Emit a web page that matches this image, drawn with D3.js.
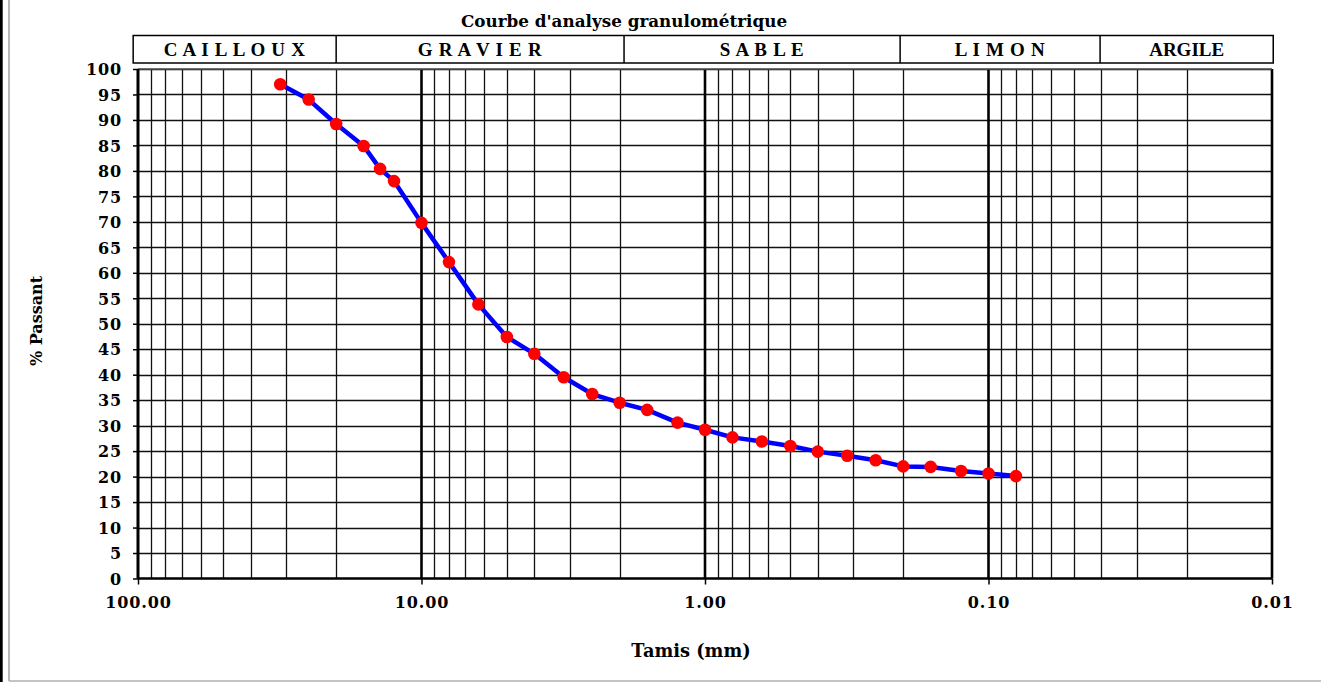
<!DOCTYPE html>
<html>
<head>
<meta charset="utf-8">
<script src="https://cdn.jsdelivr.net/npm/d3@7/dist/d3.min.js"></script>
<style>
  html, body { margin: 0; padding: 0; background: #fff; }
  svg { display: block; }
</style>
</head>
<body>
<svg id="chart" width="1321" height="682"></svg>
<script>
// ---- Data ----
const chartTitle = "Courbe d'analyse granulométrique";
const sieveSizes = [31.5, 25, 20, 16, 14, 12.5, 10, 8, 6.3, 5, 4, 3.15, 2.5, 2, 1.6, 1.25, 1, 0.8, 0.63, 0.5, 0.4, 0.315, 0.25, 0.2, 0.16, 0.125, 0.1, 0.08];
const percentPassing = [97.0, 94.0, 89.2, 84.9, 80.4, 78.0, 69.8, 62.1, 53.8, 47.4, 44.1, 39.5, 36.2, 34.5, 33.1, 30.6, 29.2, 27.7, 26.9, 26.0, 24.9, 24.1, 23.2, 22.0, 21.9, 21.1, 20.6, 20.1];
const classNames = ["C A I L L O U X", "G R A V I E R", "S A B L E", "L I M O N", "ARGILE"];
const classBounds = [104, 20, 1.93, 0.205, 0.0404, 0.0099];
const xTickValues = [100, 10, 1, 0.1, 0.01];
const yTickValues = d3.range(0, 101, 5);
const xTitle = "Tamis (mm)";
const yTitle = "% Passant";

// ---- Layout ----
const svg = d3.select("#chart");
const W = 1321, H = 682;
const pLeft = 138, pRight = 1272, pTop = 69, pBottom = 578.5;

const x = d3.scaleLog().domain([100, 0.01]).range([pLeft, pRight]);
const y = d3.scaleLinear().domain([0, 100]).range([pBottom, pTop]);

const tickFont = "'DejaVu Serif', Georgia, serif";
const headFont = "'Liberation Serif', 'Times New Roman', serif";

// outer frame
svg.append("rect").attr("x", 0).attr("y", 0).attr("width", 2.7).attr("height", H).attr("fill", "#000");
svg.append("line").attr("x1", 9).attr("x2", 9).attr("y1", 0).attr("y2", 681)
  .attr("stroke", "#a0a0a0").attr("stroke-width", 1.5);
svg.append("line").attr("x1", 9).attr("x2", W).attr("y1", 681).attr("y2", 681)
  .attr("stroke", "#b0b0b0").attr("stroke-width", 1.5);

// title
svg.append("text").attr("x", 624).attr("y", 26.5).attr("text-anchor", "middle")
  .attr("font-family", tickFont).attr("font-weight", "bold").attr("font-size", 16.8)
  .attr("fill", "#000").text(chartTitle);

// header band
const head = svg.append("g");
head.append("rect").attr("x", x(classBounds[0])).attr("y", 35.5)
  .attr("width", x(classBounds[classBounds.length - 1]) - x(classBounds[0])).attr("height", 27.5)
  .attr("fill", "none").attr("stroke", "#000").attr("stroke-width", 1.5);
classNames.forEach((name, i) => {
  const x0 = x(classBounds[i]), x1 = x(classBounds[i + 1]);
  if (i > 0) {
    head.append("line").attr("x1", x0).attr("x2", x0).attr("y1", 35.5).attr("y2", 63)
      .attr("stroke", "#000").attr("stroke-width", 1.5);
  }
  head.append("text").attr("x", (x0 + x1) / 2).attr("y", 56)
    .attr("text-anchor", "middle").attr("font-family", headFont)
    .attr("font-weight", "bold").attr("font-size", 19).attr("fill", "#000")
    .attr("letter-spacing", i < 4 ? 0.7 : 0)
    .text(name);
});

// grid
const grid = svg.append("g");
const minorVals = [];
for (let e = -2; e < 2; e++) {
  for (let k = 2; k <= 9; k++) minorVals.push(k * Math.pow(10, e));
}
grid.selectAll("line.hg").data(yTickValues.filter(v => v > 0)).join("line")
  .attr("x1", pLeft).attr("x2", pRight)
  .attr("y1", d => Math.round(y(d)) + 0.5).attr("y2", d => Math.round(y(d)) + 0.5)
  .attr("stroke", "#111").attr("stroke-width", 1.3);
grid.selectAll("line.vg").data(minorVals).join("line")
  .attr("x1", d => Math.round(x(d)) + 0.5).attr("x2", d => Math.round(x(d)) + 0.5)
  .attr("y1", pTop).attr("y2", pBottom)
  .attr("stroke", "#111").attr("stroke-width", 1.3);
grid.selectAll("line.mg").data(xTickValues).join("line")
  .attr("x1", d => x(d)).attr("x2", d => x(d))
  .attr("y1", pTop).attr("y2", pBottom)
  .attr("stroke", "#000").attr("stroke-width", 2.6);

// plot frame top
svg.append("line").attr("x1", pLeft).attr("x2", pRight).attr("y1", pTop).attr("y2", pTop)
  .attr("stroke", "#555").attr("stroke-width", 1.5);

// axes
const yAxis = svg.append("g").attr("transform", `translate(${pLeft},0)`)
  .call(d3.axisLeft(y).tickValues(yTickValues).tickSize(5).tickPadding(11).tickFormat(d3.format("d")));
const xAxis = svg.append("g").attr("transform", `translate(0,${pBottom})`)
  .call(d3.axisBottom(x).tickValues(xTickValues).tickSize(6).tickPadding(12).tickFormat(d3.format(".2f")));
[yAxis, xAxis].forEach(g => {
  g.select(".domain").attr("stroke", "#000").attr("stroke-width", 2.6);
  g.selectAll(".tick line").attr("stroke", "#000").attr("stroke-width", 1.5);
  g.selectAll(".tick text").attr("fill", "#000")
    .attr("font-family", tickFont).attr("font-weight", "bold").attr("font-size", 16)
    .attr("letter-spacing", 0.9);
});
yAxis.select(".domain").attr("d", `M0,${pBottom}V${pTop}`);
yAxis.selectAll(".tick text").attr("dy", "0.36em");
xAxis.select(".domain").attr("d", `M${pLeft},0H${pRight}`);

// axis titles
svg.append("text").attr("x", 691).attr("y", 657).attr("text-anchor", "middle")
  .attr("font-family", tickFont).attr("font-weight", "bold").attr("font-size", 17.8)
  .attr("fill", "#000").text(xTitle);
svg.append("text").attr("transform", "translate(41.5,321) rotate(-90)").attr("text-anchor", "middle")
  .attr("font-family", tickFont).attr("font-weight", "bold").attr("font-size", 16)
  .attr("fill", "#000").text(yTitle);

// curve
const pts = sieveSizes.map((s, i) => [s, percentPassing[i]]);
const line = d3.line().x(d => x(d[0])).y(d => y(d[1]));
svg.append("path").datum(pts).attr("d", line)
  .attr("fill", "none").attr("stroke", "#0000ff").attr("stroke-width", 4.5)
  .attr("stroke-linejoin", "round");
svg.append("g").selectAll("circle").data(pts).join("circle")
  .attr("cx", d => x(d[0])).attr("cy", d => y(d[1])).attr("r", 6.3)
  .attr("fill", "#ff0000");
</script>
</body>
</html>
